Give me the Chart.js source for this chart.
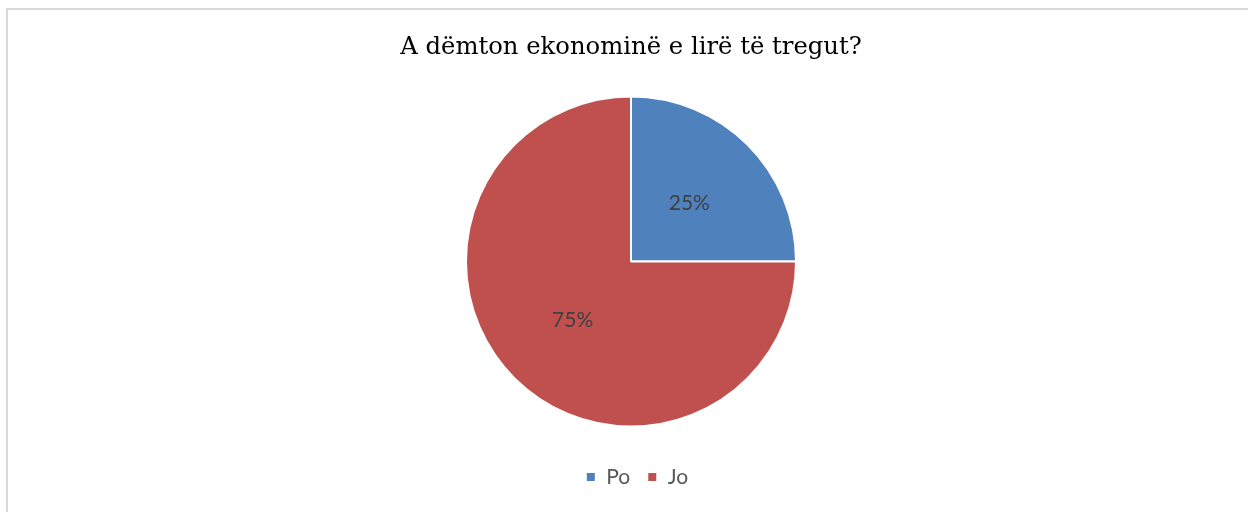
<!DOCTYPE html>
<html>
<head>
<meta charset="utf-8">
<script src="https://cdn.jsdelivr.net/npm/chart.js@4.4.0/dist/chart.umd.min.js"></script>
<style>
  html, body { margin: 0; padding: 0; background: #ffffff; overflow: hidden; width: 1248px; height: 512px; }
  #clip { position: absolute; left: 0; top: 0; width: 1248px; height: 512px; overflow: hidden; }
  #frameLeft { position: absolute; left: 6px; top: 8px; width: 2px; height: 504px; background: #d9d9d9; }
  #frameTop { position: absolute; left: 6px; top: 8px; width: 1242px; height: 2px; background: #d9d9d9; }
  #wrap { position: absolute; left: 0; top: 0; width: 1248px; height: 512px; }
</style>
</head>
<body>
<div id="clip">
<div id="frameLeft"></div>
<div id="frameTop"></div>
<div id="wrap"><canvas id="c" width="1248" height="512"></canvas></div>
</div>
<script>
const titleText = "A dëmton ekonominë e lirë të tregut?";
const categories = ["Po", "Jo"];
const values = [25, 75];
const sliceColors = ["#4F81BD", "#C0504D"];

const pctLabels = {
  id: 'pctLabels',
  afterDatasetsDraw(chart) {
    const ctx = chart.ctx;
    const meta = chart.getDatasetMeta(0);
    const data = chart.data.datasets[0].data;
    const total = data.reduce((a, b) => a + b, 0);
    ctx.save();
    ctx.font = '21px Lato';
    ctx.fillStyle = '#404040';
    ctx.textAlign = 'center';
    ctx.textBaseline = 'middle';
    meta.data.forEach((arc, i) => {
      const p = arc.tooltipPosition();
      ctx.fillText(Math.round(data[i] / total * 100) + '%', p.x, p.y);
    });
    ctx.restore();
  }
};

const legendShift = {
  id: 'legendShift',
  afterLayout(chart) {
    if (chart.legend) {
      chart.legend.left += 6;
      chart.legend.right += 6;
    }
  }
};

new Chart(document.getElementById('c'), {
  type: 'pie',
  data: {
    labels: categories,
    datasets: [{
      data: values,
      backgroundColor: sliceColors,
      borderColor: '#ffffff',
      borderWidth: 2,
      radius: 165
    }]
  },
  options: {
    responsive: false,
    animation: false,
    layout: { padding: { left: 14, right: 0, top: 0, bottom: 14.5 } },
    plugins: {
      title: {
        display: true,
        text: titleText,
        color: '#000000',
        font: { family: 'DejaVu Serif', size: 24.3, weight: 'normal' },
        padding: { top: 33.2, bottom: 11.1 }
      },
      legend: {
        display: true,
        position: 'bottom',
        labels: {
          boxWidth: 10,
          boxHeight: 10,
          padding: 17,
          color: '#595959',
          font: { family: 'Lato', size: 21 }
        }
      },
      tooltip: { enabled: false }
    }
  },
  plugins: [pctLabels, legendShift]
});
</script>
</body>
</html>
